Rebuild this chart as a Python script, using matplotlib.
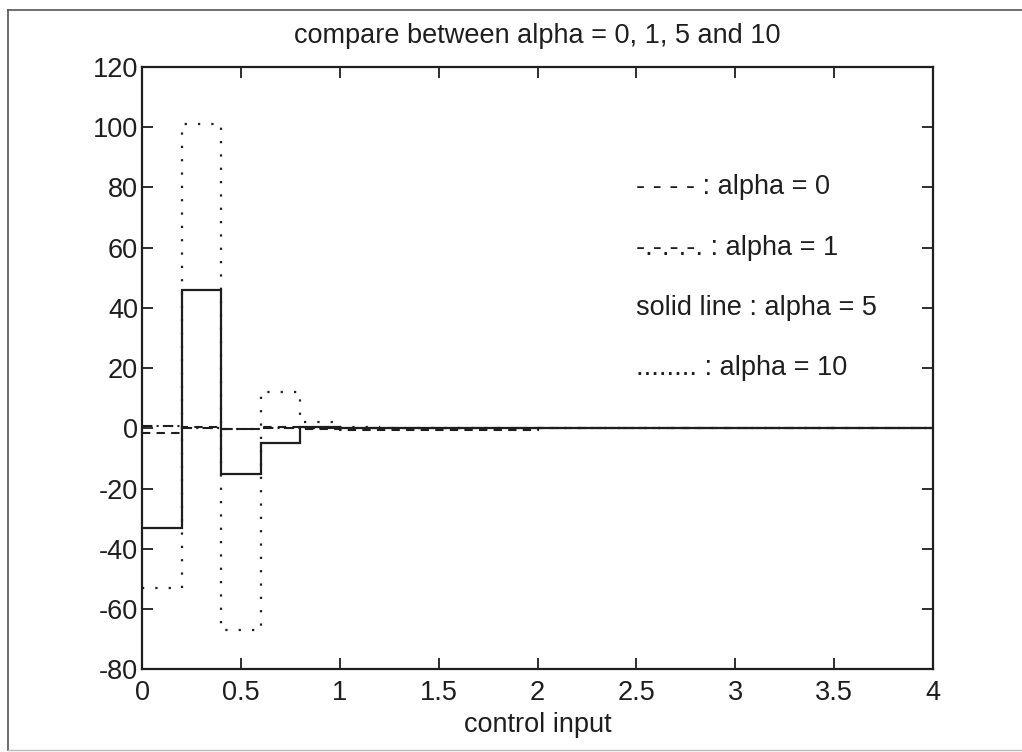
import matplotlib
matplotlib.use("Agg")
import matplotlib.pyplot as plt
from matplotlib.lines import Line2D

# sample instants of the control input (step 0.2 s), last edge closes the final step
edges = [0.0, 0.2, 0.4, 0.6, 0.8, 1.0, 1.2, 1.4, 1.6, 1.8, 2.0,
         2.2, 2.4, 2.6, 2.8, 3.0, 3.2, 3.4, 3.6, 3.8, 4.0]

# control input for each weighting alpha
u_alpha0 = [-1.5, 0.4, -0.2, 0.5, -0.3, -0.6, -0.6, -0.6, -0.6, -0.6,
            0.0, 0.0, 0.0, 0.0, 0.0, 0.0, 0.0, 0.0, 0.0, 0.0]
u_alpha1 = [0.8, 0.2, -0.3, 0.2, 0.1, 0.0, 0.0, 0.0, 0.0, 0.0,
            0.0, 0.0, 0.0, 0.0, 0.0, 0.0, 0.0, 0.0, 0.0, 0.0]
u_alpha5 = [-33, 46, -15, -5, 0.3, 0.1, 0.0, 0.0, 0.0, 0.0,
            0.0, 0.0, 0.0, 0.0, 0.0, 0.0, 0.0, 0.0, 0.0, 0.0]
u_alpha10 = [-53, 101, -67, 12, 2, 0.3, 0.0, 0.0, 0.0, 0.0,
             0.0, 0.0, 0.0, 0.0, 0.0, 0.0, 0.0, 0.0, 0.0, 0.0]

notes = ["- - - - : alpha = 0", "-.-.-.-. : alpha = 1",
         "solid line : alpha = 5", "........ : alpha = 10"]
note_y = [80, 60, 40, 20]

ink = "#1e1e1e"
plt.rcParams['font.family'] = ['Liberation Sans', 'DejaVu Sans']
plt.rcParams['axes.unicode_minus'] = False

fig = plt.figure(figsize=(10.22, 7.52), dpi=100)
ax = fig.add_axes([0.139, 0.110, 0.774, 0.801])

ax.stairs(u_alpha0, edges, baseline=None, color=ink, lw=1.5, linestyle=(0, (4, 3)))
ax.stairs(u_alpha1, edges, baseline=None, color=ink, lw=1.5, linestyle=(0, (5, 2, 1, 2)))
ax.stairs(u_alpha5, edges, baseline=None, color=ink, lw=1.6, linestyle='-')
ax.stairs(u_alpha10, edges, baseline=None, color=ink, lw=1.6, linestyle=(0, (1, 5)))

for txt, yy in zip(notes, note_y):
    ax.text(2.5, yy, txt, fontsize=19.5, color=ink, va='center', ha='left')

ax.set_xlim(0, 4)
ax.set_ylim(-80, 120)
ax.set_xticks([0, 0.5, 1, 1.5, 2, 2.5, 3, 3.5, 4])
ax.set_xticklabels(['0', '0.5', '1', '1.5', '2', '2.5', '3', '3.5', '4'])
ax.set_yticks([-80, -60, -40, -20, 0, 20, 40, 60, 80, 100, 120])
ax.tick_params(direction='in', length=8, width=1.3, top=True, right=True,
               labelsize=19.5, colors=ink)
ax.tick_params(axis='x', pad=8)
ax.tick_params(axis='y', pad=3)
for s in ax.spines.values():
    s.set_linewidth(1.6)
    s.set_color(ink)

ax.set_title("compare between alpha = 0, 1, 5 and 10", fontsize=19.5, color=ink, pad=17)
ax.set_xlabel("control input", fontsize=19.5, color=ink, labelpad=4)

# border of the scanned page around the figure
fig.add_artist(Line2D([8 / 1022, 8 / 1022], [1 - 750 / 752, 1 - 10 / 752],
                      transform=fig.transFigure, color='#555555', lw=1.2))
fig.add_artist(Line2D([8 / 1022, 1.0], [1 - 10 / 752, 1 - 10 / 752],
                      transform=fig.transFigure, color='#555555', lw=1.2))
fig.add_artist(Line2D([8 / 1022, 1.0], [1 - 750 / 752, 1 - 750 / 752],
                      transform=fig.transFigure, color='#bbbbbb', lw=1.0))

fig.savefig("out.png", dpi=100)
